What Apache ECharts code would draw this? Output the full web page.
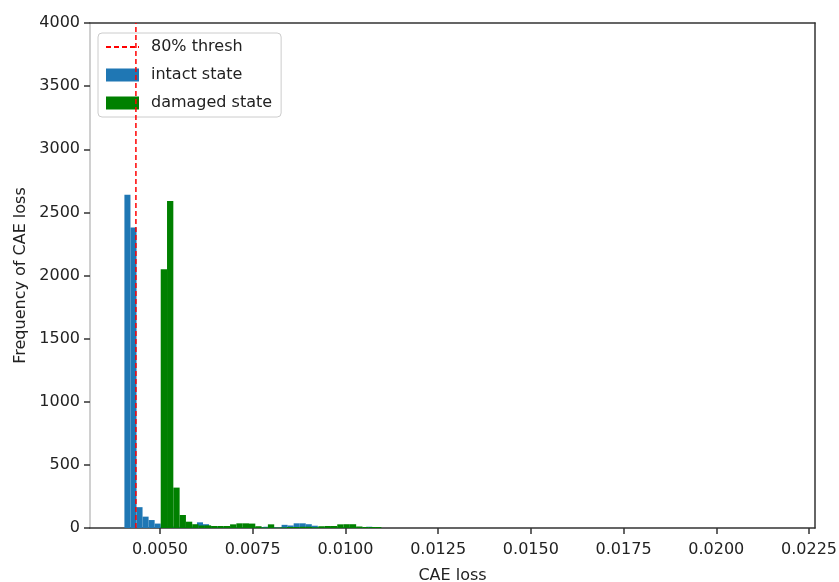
<!DOCTYPE html>
<html>
<head>
<meta charset="utf-8">
<script src="https://cdn.jsdelivr.net/npm/echarts@6/dist/echarts.min.js"></script>
<style>html,body{margin:0;padding:0;background:#fff}#c{width:839px;height:582px}</style>
</head>
<body>
<div id="c"></div>
<script>
// ---- data ----
const seriesNames = ['80% thresh', 'intact state', 'damaged state'];
const threshold = 0.00435;
const intactBinStart = 0.00404;
const intactBinWidth = 0.000163;
const intactCounts = [2640,2380,165,90,63,35,20,15,12,10,10,12,45,30,15,10,8,6,5,5,5,5,8,10,5,3,25,20,37,37,30,18,8,5,5,5,5,5,5,5,10,3];
const damagedBinStart = 0.005019;
const damagedBinWidth = 0.00017;
const damagedCounts = [2050,2590,320,103,50,30,20,21,16,16,16,29,37,37,35,14,5,29,3,5,8,8,10,10,6,14,16,16,29,30,30,12,8,8,8];
const xTicks = [0.0050,0.0075,0.0100,0.0125,0.0150,0.0175,0.0200,0.0225];
const xMin = 0.003112, xMax = 0.022662;
const yMin = 0, yMax = 4000, yStep = 500;

function bins(start, width, counts) {
  return counts.map((c, i) => [start + i * width, start + (i + 1) * width, c]);
}
function renderHist(params, api) {
  const p0 = api.coord([api.value(0), api.value(2)]);
  const p1 = api.coord([api.value(1), 0]);
  return {
    type: 'rect',
    shape: { x: p0[0], y: p0[1], width: p1[0] - p0[0], height: p1[1] - p0[1] },
    style: { fill: api.visual('color') }
  };
}
const font = 'DejaVu Sans';
const dark = '#333';
const chart = echarts.init(document.getElementById('c'), null, { renderer: 'canvas' });
chart.setOption({
  animation: false,
  backgroundColor: '#fff',
  textStyle: { fontFamily: font },
  grid: { left: 90, right: 24, top: 23, bottom: 54, containLabel: false, outerBoundsMode: 'none' },
  legend: {
    left: 98, top: 33, orient: 'vertical',
    backgroundColor: '#fff', borderColor: '#cccccc', borderWidth: 1, borderRadius: 4,
    padding: [6, 9, 6, 7],
    itemWidth: 33, itemHeight: 13, itemGap: 12,
    textStyle: { fontFamily: font, fontSize: 16, color: '#222', padding: [0, 0, 0, 7], lineHeight: 16 },
    data: [
      { name: seriesNames[0], itemStyle: { opacity: 0 } },
      { name: seriesNames[1], icon: 'rect' },
      { name: seriesNames[2], icon: 'rect' }
    ]
  },
  xAxis: [{
    type: 'value', min: xMin, max: xMax,
    name: 'CAE loss', nameLocation: 'middle', nameGap: 40,
    nameTextStyle: { fontFamily: font, fontSize: 16, color: '#222' },
    splitLine: { show: false },
    axisLine: { show: true, onZero: false, lineStyle: { color: dark, width: 1.5 } },
    axisTick: { show: true, length: 6, customValues: xTicks, lineStyle: { color: dark, width: 1.5 } },
    axisLabel: { customValues: xTicks, formatter: v => v.toFixed(4), margin: 14, fontFamily: font, fontSize: 16, color: '#222' }
  }, {
    type: 'value', min: xMin, max: xMax, position: 'top',
    splitLine: { show: false },
    axisLine: { show: true, onZero: false, lineStyle: { color: dark, width: 1.5 } },
    axisTick: { show: false }, axisLabel: { show: false }
  }],
  yAxis: [{
    type: 'value', min: yMin, max: yMax, interval: yStep,
    name: 'Frequency of CAE loss', nameLocation: 'middle', nameGap: 47,
    nameTextStyle: { fontFamily: font, fontSize: 16, color: '#222' },
    splitLine: { show: false },
    axisLine: { show: true, onZero: false, lineStyle: { color: '#d0d0d0', width: 2 } },
    axisTick: { show: true, length: 6, lineStyle: { color: dark, width: 1.5 } },
    axisLabel: { margin: 10, fontFamily: font, fontSize: 16, color: '#222', formatter: v => String(v) }
  }, {
    type: 'value', min: yMin, max: yMax, interval: yStep, position: 'right',
    splitLine: { show: false },
    axisLine: { show: true, onZero: false, lineStyle: { color: dark, width: 1.5 } },
    axisTick: { show: false }, axisLabel: { show: false }
  }],
  series: [
    {
      name: seriesNames[1], type: 'custom', renderItem: renderHist,
      itemStyle: { color: '#1f77b4' },
      encode: { x: [0, 1], y: 2 },
      data: bins(intactBinStart, intactBinWidth, intactCounts), z: 2
    },
    {
      name: seriesNames[2], type: 'custom', renderItem: renderHist,
      itemStyle: { color: '#008000' },
      encode: { x: [0, 1], y: 2 },
      data: bins(damagedBinStart, damagedBinWidth, damagedCounts), z: 3
    },
    {
      name: seriesNames[0], type: 'line', symbol: 'none',
      itemStyle: { color: '#ff0000' },
      lineStyle: { color: '#ff0000', width: 1.5, type: [5, 3] },
      data: [[threshold, yMin], [threshold, yMax]], z: 5
    }
  ]
});
</script>
</body>
</html>
